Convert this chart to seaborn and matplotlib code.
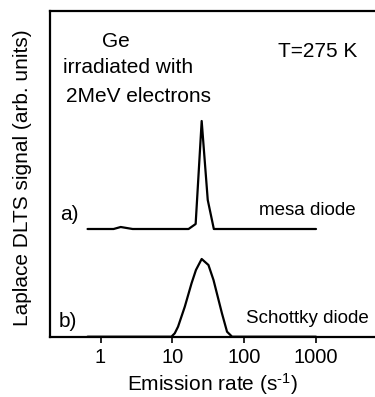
import matplotlib
matplotlib.use("Agg")
import matplotlib.pyplot as plt
import seaborn as sns
import pandas as pd

# ---- data ----
rate_a = [0.66, 1.52, 1.91, 2.8, 16.8, 21.1, 25.6, 31.1, 37.8, 1000]
signal_a = [108, 108, 110, 108, 108, 113, 216, 137, 108, 108]

rate_b = [0.66, 9.7, 10.8, 12.0, 14.9, 18.5, 21.3, 25.6, 31.8, 37.4, 49.0, 57.7, 67.8, 1000]
signal_b = [0.3, 0.3, 3.7, 10.3, 30.3, 53.7, 67, 78, 72, 57, 23.7, 5.3, 0.3, 0.3]

xticks = [1, 10, 100, 1000]
xtick_labels = ["1", "10", "100", "1000"]

df = pd.concat([
    pd.DataFrame({"rate": rate_a, "signal": signal_a, "sample": "a"}),
    pd.DataFrame({"rate": rate_b, "signal": signal_b, "sample": "b"}),
])

sns.set_theme(style="white")
plt.rcParams["font.family"] = ["Liberation Sans", "DejaVu Sans"]
plt.rcParams["mathtext.fontset"] = "custom"
plt.rcParams["mathtext.rm"] = "Liberation Sans"
plt.rcParams["mathtext.it"] = "Liberation Sans"

W, H = 375, 397
fig = plt.figure(figsize=(W / 100, H / 100), dpi=100)
ax = fig.add_axes([50 / W, 1 - 337 / H, (W - 50) / W + 0.01, (337 - 11) / H])

sns.lineplot(data=df, x="rate", y="signal", units="sample", estimator=None,
             color="black", linewidth=1.6, sort=False, ax=ax)

ax.set_xscale("log")
ax.set_xlim(0.198, 7470)
ax.set_ylim(0, 326)
ax.set_xticks(xticks)
ax.set_xticklabels(xtick_labels)
ax.minorticks_off()
ax.set_yticks([])
ax.set_xlabel("")
ax.set_ylabel("")
ax.tick_params(axis="x", direction="out", length=4, width=1.2, colors="black",
               labelsize=14.5, pad=4, bottom=True)
for side in ["left", "bottom", "top"]:
    ax.spines[side].set_color("black")
    ax.spines[side].set_linewidth(1.6)
ax.spines["right"].set_visible(False)


def ftxt(x, y, s, size, ha="center", va="baseline", **kw):
    fig.text(x / W, 1 - y / H, s, fontsize=size, ha=ha, va=va, color="black", **kw)


ftxt(115.5, 47, "Ge", 15)
ftxt(128, 73, "irradiated with", 15)
ftxt(138, 102, "2MeV electrons", 15)
ftxt(318, 57, "T=275 K", 15)
ftxt(69, 220, "a)", 15)
ftxt(307.5, 215, "mesa diode", 13.5)
ftxt(67.5, 327, "b)", 15)
ftxt(307.5, 323, "Schottky diode", 13.5)
ftxt(213, 391, "Emission rate (s$^{\\text{-1}}$)", 15)
ftxt(23, 178, "Laplace DLTS signal (arb. units)", 15, va="center", rotation=90)

fig.savefig("out.png", dpi=100)
